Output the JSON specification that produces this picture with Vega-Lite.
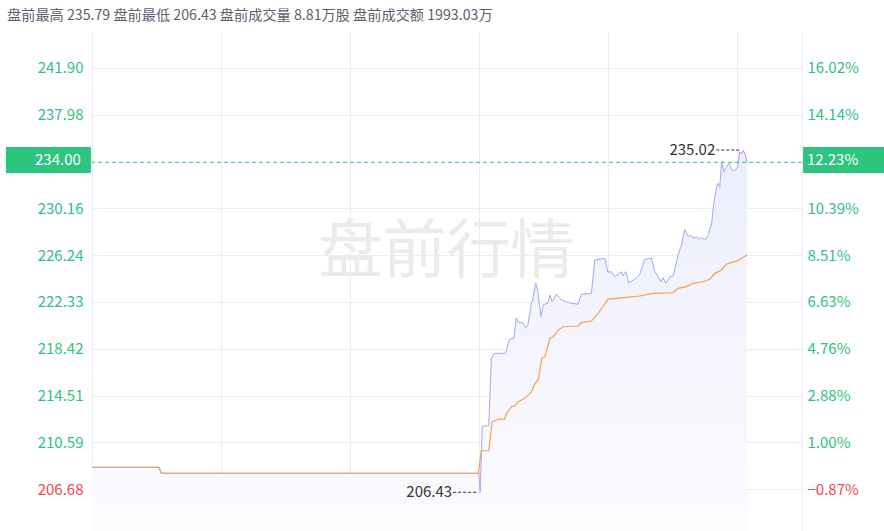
{
  "$schema": "https://vega.github.io/schema/vega-lite/v6.json",
  "width": 710,
  "height": 500,
  "autosize": {"type": "none"},
  "padding": {"left": 92, "top": 31, "right": 82, "bottom": 0},
  "background": "white",
  "config": {
    "view": {"stroke": null},
    "font": "Noto Sans CJK SC",
    "axis": {"labelFont": "Noto Sans CJK SC", "labelFontSize": 15, "gridColor": "#ececec", "gridWidth": 1}
  },
  "title": {
    "text": "盘前最高 235.79 盘前最低 206.43 盘前成交量 8.81万股 盘前成交额 1993.03万",
    "anchor": "start",
    "frame": "group",
    "orient": "top",
    "dx": -85,
    "offset": 1,
    "fontSize": 14.2,
    "fontWeight": "normal",
    "color": "#5b606e",
    "font": "Noto Sans CJK SC",
    "baseline": "middle"
  },
  "datasets": {
    "price": [
      {"m": 0, "p": 208.52}, {"m": 31.2, "p": 208.52}, {"m": 32.1, "p": 208.02}, {"m": 179.8, "p": 208.02},
      {"m": 180.4, "p": 206.43}, {"m": 181.4, "p": 211.97}, {"m": 184.4, "p": 211.97}, {"m": 185.6, "p": 217.62},
      {"m": 187.1, "p": 218.04}, {"m": 192.2, "p": 218.04}, {"m": 194.1, "p": 219.21}, {"m": 196.1, "p": 219.30},
      {"m": 197.2, "p": 220.97}, {"m": 198.4, "p": 220.60}, {"m": 200.3, "p": 220.60}, {"m": 201.5, "p": 220.13},
      {"m": 202.6, "p": 220.41}, {"m": 204.2, "p": 222.22}, {"m": 204.8, "p": 222.49}, {"m": 206.3, "p": 223.89},
      {"m": 207.1, "p": 223.33}, {"m": 208.7, "p": 221.10}, {"m": 209.7, "p": 222.08}, {"m": 212.0, "p": 222.27},
      {"m": 212.8, "p": 222.91}, {"m": 213.9, "p": 222.35}, {"m": 215.8, "p": 222.97}, {"m": 218.2, "p": 222.49},
      {"m": 220.5, "p": 222.35}, {"m": 222.8, "p": 222.22}, {"m": 225.9, "p": 222.14}, {"m": 227.5, "p": 222.97},
      {"m": 232.1, "p": 223.05}, {"m": 233.7, "p": 225.84}, {"m": 238.3, "p": 225.98}, {"m": 239.8, "p": 224.81},
      {"m": 241.4, "p": 224.86}, {"m": 243.0, "p": 224.44}, {"m": 244.5, "p": 224.64}, {"m": 246.1, "p": 224.86},
      {"m": 246.8, "p": 224.50}, {"m": 248.1, "p": 224.86}, {"m": 249.5, "p": 223.94}, {"m": 252.3, "p": 224.22},
      {"m": 254.6, "p": 224.64}, {"m": 256.9, "p": 225.89}, {"m": 260.0, "p": 225.98}, {"m": 261.6, "p": 224.86},
      {"m": 263.1, "p": 224.44}, {"m": 264.4, "p": 224.02}, {"m": 265.4, "p": 224.36}, {"m": 266.7, "p": 223.89},
      {"m": 268.6, "p": 224.44}, {"m": 270.1, "p": 224.50}, {"m": 272.4, "p": 226.25}, {"m": 274.0, "p": 227.09},
      {"m": 275.5, "p": 228.40}, {"m": 277.1, "p": 227.78}, {"m": 278.2, "p": 227.92}, {"m": 279.4, "p": 227.65},
      {"m": 281.0, "p": 227.78}, {"m": 282.2, "p": 227.57}, {"m": 283.3, "p": 227.70}, {"m": 284.9, "p": 227.51},
      {"m": 286.4, "p": 227.92}, {"m": 288.0, "p": 228.90}, {"m": 289.0, "p": 230.57}, {"m": 290.3, "p": 231.96},
      {"m": 291.0, "p": 232.24}, {"m": 291.8, "p": 231.96}, {"m": 292.6, "p": 234.05}, {"m": 293.7, "p": 233.21},
      {"m": 294.9, "p": 233.63}, {"m": 296.2, "p": 233.92}, {"m": 297.3, "p": 233.35}, {"m": 298.8, "p": 233.30},
      {"m": 300.1, "p": 233.63}, {"m": 301.1, "p": 234.88}, {"m": 301.9, "p": 234.69}, {"m": 302.7, "p": 235.02},
      {"m": 303.5, "p": 234.69}, {"m": 304.5, "p": 234.00}
    ],
    "avg": [
      {"m": 0, "p": 208.52}, {"m": 31.2, "p": 208.52}, {"m": 32.1, "p": 208.02}, {"m": 179.6, "p": 208.02},
      {"m": 180.9, "p": 209.90}, {"m": 184.4, "p": 209.90}, {"m": 186.0, "p": 212.33}, {"m": 189.4, "p": 212.55},
      {"m": 191.8, "p": 212.55}, {"m": 192.7, "p": 213.03}, {"m": 195.0, "p": 213.58}, {"m": 196.6, "p": 213.64},
      {"m": 198.1, "p": 214.00}, {"m": 199.7, "p": 214.14}, {"m": 202.0, "p": 214.42}, {"m": 204.3, "p": 214.83},
      {"m": 205.9, "p": 215.54}, {"m": 207.4, "p": 215.81}, {"m": 208.2, "p": 216.65}, {"m": 209.0, "p": 217.62},
      {"m": 210.5, "p": 217.76}, {"m": 212.8, "p": 219.30}, {"m": 214.4, "p": 219.43}, {"m": 216.8, "p": 219.99},
      {"m": 218.9, "p": 220.26}, {"m": 225.9, "p": 220.32}, {"m": 227.5, "p": 220.60}, {"m": 232.1, "p": 220.74},
      {"m": 235.2, "p": 221.38}, {"m": 237.5, "p": 221.93}, {"m": 239.8, "p": 222.55}, {"m": 246.8, "p": 222.69},
      {"m": 254.6, "p": 222.83}, {"m": 260.8, "p": 223.05}, {"m": 270.1, "p": 223.10}, {"m": 272.4, "p": 223.47},
      {"m": 276.3, "p": 223.61}, {"m": 279.4, "p": 223.89}, {"m": 284.0, "p": 224.02}, {"m": 287.2, "p": 224.22},
      {"m": 289.5, "p": 224.72}, {"m": 292.6, "p": 225.00}, {"m": 295.0, "p": 225.50}, {"m": 297.3, "p": 225.64},
      {"m": 299.9, "p": 225.75}, {"m": 301.9, "p": 225.98}, {"m": 304.5, "p": 226.25}
    ],
    "ann": [
      {"m": 302.7, "p": 235.02, "t": "235.02"},
      {"m": 180.4, "p": 206.43, "t": "206.43"}
    ]
  },
  "resolve": {"scale": {"y": "shared"}, "axis": {"y": "independent"}},
  "layer": [
    {
      "data": {"values": [{"t": "盘前行情"}]},
      "mark": {"type": "text", "fontSize": 64, "color": "#ebebeb", "align": "center", "baseline": "middle", "font": "Noto Sans CJK SC"},
      "encoding": {
        "text": {"field": "t"},
        "x": {"datum": 164.8, "type": "quantitative", "scale": {"domain": [0, 330], "nice": false, "zero": false},
              "axis": {"values": [0, 60, 120, 180, 240, 300, 330], "labels": false, "ticks": false, "domain": false, "title": null, "grid": true}},
        "y": {"datum": 226.4, "type": "quantitative", "scale": {"domain": [203.196, 244.966], "nice": false, "zero": false},
              "axis": {"values": [206.68, 210.59, 214.51, 218.42, 222.33, 226.24, 230.16, 237.98, 241.90],
                       "orient": "left", "format": ".2f", "ticks": false, "domain": false, "title": null, "grid": true,
                       "labelPadding": 9,
                       "labelColor": {"condition": {"test": "datum.value < 208.5", "value": "#f0494c"}, "value": "#2ec27e"}}}
      }
    },
    {
      "data": {"name": "price"},
      "mark": {"type": "area", "line": false, "color": {"x1": 0, "y1": 0, "x2": 0, "y2": 1, "gradient": "linear",
               "stops": [{"offset": 0, "color": "#eceefc"}, {"offset": 1, "color": "#fbfbfe"}]}},
      "encoding": {
        "x": {"field": "m", "type": "quantitative", "scale": {"domain": [0, 330], "nice": false, "zero": false}},
        "y": {"field": "p", "type": "quantitative", "scale": {"domain": [203.196, 244.966], "nice": false, "zero": false}, "axis": null},
        "y2": {"datum": 203.196}
      }
    },
    {
      "data": {"name": "price"},
      "mark": {"type": "line", "color": "#a3a8ef", "strokeWidth": 1},
      "encoding": {
        "x": {"field": "m", "type": "quantitative", "scale": {"domain": [0, 330], "nice": false, "zero": false}},
        "y": {"field": "p", "type": "quantitative", "scale": {"domain": [203.196, 244.966], "nice": false, "zero": false},
              "axis": {"values": [206.68, 210.59, 214.51, 218.42, 222.33, 226.24, 230.16, 237.98, 241.90],
                       "orient": "right", "ticks": false, "domain": false, "title": null, "grid": false,
                       "labelPadding": 5,
                       "labelExpr": "format((datum.value / 208.5 - 1) * 100, '.2f') + '%'",
                       "labelColor": {"condition": {"test": "datum.value < 208.5", "value": "#f0494c"}, "value": "#2ec27e"}}}
      }
    },
    {
      "data": {"name": "avg"},
      "mark": {"type": "line", "color": "#f7a04a", "strokeWidth": 1.2},
      "encoding": {
        "x": {"field": "m", "type": "quantitative", "scale": {"domain": [0, 330], "nice": false, "zero": false}},
        "y": {"field": "p", "type": "quantitative", "scale": {"domain": [203.196, 244.966], "nice": false, "zero": false}, "axis": null}
      }
    },
    {
      "data": {"values": [{"v": 234}]},
      "mark": {"type": "rule", "color": "#2ec27e", "strokeDash": [4, 3], "strokeWidth": 1},
      "encoding": {
        "y": {"field": "v", "type": "quantitative", "scale": {"domain": [203.196, 244.966], "nice": false, "zero": false}, "axis": null}
      }
    },
    {
      "data": {"values": [{"a": -40.0, "b": -0.5}, {"a": 330.5, "b": 372}]},
      "mark": {"type": "rect", "color": "#2cc47e", "clip": false},
      "encoding": {
        "x": {"field": "a", "type": "quantitative", "scale": {"domain": [0, 330], "nice": false, "zero": false}},
        "x2": {"field": "b"},
        "y": {"datum": 233.10, "type": "quantitative", "scale": {"domain": [203.196, 244.966], "nice": false, "zero": false}, "axis": null},
        "y2": {"datum": 235.28}
      }
    },
    {
      "data": {"values": [{"a": -5.2, "t": "234.00"}]},
      "mark": {"type": "text", "color": "white", "fontSize": 15, "align": "right", "baseline": "middle", "clip": false},
      "encoding": {
        "x": {"field": "a", "type": "quantitative", "scale": {"domain": [0, 330], "nice": false, "zero": false}},
        "y": {"datum": 234.19, "type": "quantitative", "scale": {"domain": [203.196, 244.966], "nice": false, "zero": false}, "axis": null},
        "text": {"field": "t"}
      }
    },
    {
      "data": {"values": [{"a": 332.3, "t": "12.23%"}]},
      "mark": {"type": "text", "color": "white", "fontSize": 15, "align": "left", "baseline": "middle", "clip": false},
      "encoding": {
        "x": {"field": "a", "type": "quantitative", "scale": {"domain": [0, 330], "nice": false, "zero": false}},
        "y": {"datum": 234.19, "type": "quantitative", "scale": {"domain": [203.196, 244.966], "nice": false, "zero": false}, "axis": null},
        "text": {"field": "t"}
      }
    },
    {
      "data": {"name": "ann"},
      "mark": {"type": "rule", "color": "#333333", "strokeDash": [3, 2], "strokeWidth": 1, "xOffset": -27, "x2Offset": -4},
      "encoding": {
        "x": {"field": "m", "type": "quantitative", "scale": {"domain": [0, 330], "nice": false, "zero": false}},
        "x2": {"field": "m"},
        "y": {"field": "p", "type": "quantitative", "scale": {"domain": [203.196, 244.966], "nice": false, "zero": false}, "axis": null}
      }
    },
    {
      "data": {"name": "ann"},
      "mark": {"type": "text", "color": "#333333", "fontSize": 15, "align": "right", "baseline": "middle", "dx": -28},
      "encoding": {
        "x": {"field": "m", "type": "quantitative", "scale": {"domain": [0, 330], "nice": false, "zero": false}},
        "y": {"field": "p", "type": "quantitative", "scale": {"domain": [203.196, 244.966], "nice": false, "zero": false}, "axis": null},
        "text": {"field": "t"}
      }
    }
  ]
}
